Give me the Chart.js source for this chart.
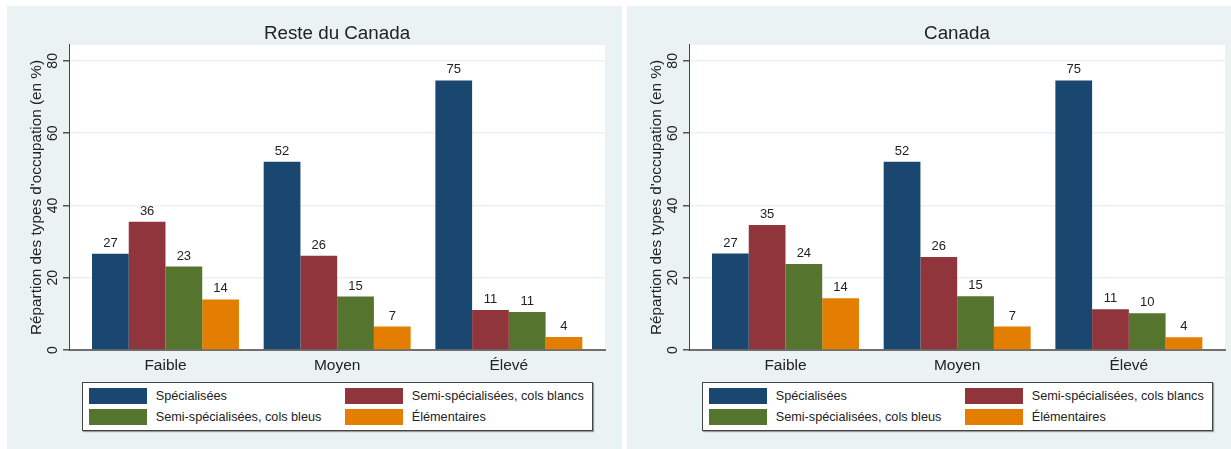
<!DOCTYPE html>
<html><head><meta charset="utf-8">
<script src="https://cdn.jsdelivr.net/npm/chart.js@4/dist/chart.umd.min.js"></script>
<style>
html,body{margin:0;padding:0;background:#fff;width:1231px;height:449px;overflow:hidden;font-family:'Liberation Sans',Arial,sans-serif;}
.panel{position:absolute;top:6px;height:443px;background:#eaf2f3;}
.panel canvas{position:absolute;left:0;top:0;}
.legend{position:absolute;left:75px;top:376px;width:509px;height:47px;background:#fff;border:1px solid #444;box-shadow:1px 1px 1px #9a9a9a;}
.sw{position:absolute;width:58px;height:16px;box-sizing:border-box;}
.lt{position:absolute;font-size:12.7px;color:#222;line-height:16px;white-space:nowrap;}
</style></head><body>
<div class="panel" id="p1" style="left:7px;width:615px"><canvas id="c1"></canvas><div class="legend" id="l1"></div></div>
<div class="panel" id="p2" style="left:627px;width:604px"><canvas id="c2"></canvas><div class="legend" id="l2"></div></div>
<script>
const categories = ['Faible', 'Moyen', 'Élevé'];
const seriesNames = ['Spécialisées', 'Semi-spécialisées, cols blancs', 'Semi-spécialisées, cols bleus', 'Élémentaires'];
const seriesColors = ['#1a476f', '#90353b', '#55752f', '#e37e00'];
const panelTitles = ['Reste du Canada', 'Canada'];
const yTicks = [0, 20, 40, 60, 80];
const yAxisTitle = "Répartion des types d'occupation (en %)";

// Reste du Canada
const resteSpecialisees  = [26.6, 52.1, 74.6];
const resteColsBlancs    = [35.5, 26.1, 11.1];
const resteColsBleus     = [23.1, 14.8, 10.5];
const resteElementaires  = [14.0, 6.5, 3.6];

// Canada
const canadaSpecialisees = [26.7, 52.1, 74.6];
const canadaColsBlancs   = [34.6, 25.7, 11.3];
const canadaColsBleus    = [23.8, 14.9, 10.2];
const canadaElementaires = [14.3, 6.5, 3.5];

const FONT = "'Liberation Sans', Arial, sans-serif";

const plotBg = {
  id: 'plotBg',
  beforeDraw(chart) {
    const { ctx, chartArea: a } = chart;
    ctx.save();
    ctx.fillStyle = '#ffffff';
    ctx.fillRect(a.left, a.top, a.right - a.left, a.bottom - a.top);
    ctx.restore();
  }
};

const valueLabels = {
  id: 'valueLabels',
  afterDatasetsDraw(chart) {
    const ctx = chart.ctx;
    ctx.save();
    ctx.font = "13px " + FONT;
    ctx.fillStyle = '#222';
    ctx.textAlign = 'center';
    ctx.textBaseline = 'alphabetic';
    chart.data.datasets.forEach((ds, i) => {
      chart.getDatasetMeta(i).data.forEach((bar, j) => {
        ctx.fillText(String(Math.round(ds.data[j].y)), bar.x, bar.y - 7);
      });
    });
    ctx.restore();
  }
};

function makeChart(canvasId, title, seriesData, width) {
  const canvas = document.getElementById(canvasId);
  const height = 374;
  canvas.width = width; canvas.height = height;
  canvas.style.width = width + 'px'; canvas.style.height = height + 'px';
  return new Chart(canvas, {
    type: 'bar',
    data: {
      datasets: seriesData.map((vals, k) => ({
        label: seriesNames[k],
        data: vals.map((v, i) => ({ x: i, y: v })),
        backgroundColor: seriesColors[k],
        borderColor: seriesColors[k],
        borderWidth: 0,
        barPercentage: 1,
        categoryPercentage: 0.856
      }))
    },
    options: {
      responsive: false,
      animation: false,
      devicePixelRatio: 1,
      layout: { padding: { left: 0, right: width - 598, top: 0, bottom: 0 } },
      plugins: {
        legend: { display: false },
        tooltip: { enabled: false },
        title: {
          display: true, text: title, fullSize: false, color: '#222',
          font: { family: FONT, size: 18.8, weight: 'normal' },
          padding: { top: 16.2, bottom: 0.2 }
        }
      },
      scales: {
        x: {
          type: 'linear', min: -0.562, max: 2.56, offset: false,
          afterBuildTicks(s) { s.ticks = categories.map((c, i) => ({ value: i })); },
          ticks: {
            callback: (v) => categories[v], color: '#222',
            font: { family: FONT, size: 15.5 }, padding: 6, maxRotation: 0, autoSkip: false
          },
          grid: { display: false, drawTicks: false },
          border: { display: true, color: '#6f6f6f', width: 2 },
          afterFit(s) { s.height = height - 344; }
        },
        y: {
          min: 0, max: 84.4,
          afterBuildTicks(s) { s.ticks = yTicks.map(v => ({ value: v })); },
          ticks: {
            color: '#222', font: { family: FONT, size: 14 },
            minRotation: 90, maxRotation: 90, crossAlign: 'center', padding: 2.5
          },
          grid: { color: '#eaf2f3', lineWidth: 1.5, tickColor: '#555', tickLength: 6, drawTicks: true },
          border: { display: true, color: '#444', width: 1 },
          title: {
            display: true, text: yAxisTitle, color: '#222',
            font: { family: FONT, size: 15.3 }, padding: { top: 20.8, bottom: 0 }
          },
          afterFit(s) { s.width = 62; }
        }
      }
    },
    plugins: [plotBg, valueLabels]
  });
}

function buildLegend(id) {
  const el = document.getElementById(id);
  const pos = [[5.6, 5], [261.6, 5], [5.6, 26.3], [261.6, 26.3]];
  seriesNames.forEach((n, k) => {
    const [x, y] = pos[k];
    const sw = document.createElement('div');
    sw.className = 'sw';
    sw.style.left = x + 'px'; sw.style.top = y + 'px';
    sw.style.background = seriesColors[k];
    el.appendChild(sw);
    const t = document.createElement('div');
    t.className = 'lt';
    t.style.left = (x + 67.1) + 'px'; t.style.top = y + 'px';
    t.textContent = n;
    el.appendChild(t);
  });
}

makeChart('c1', panelTitles[0], [resteSpecialisees, resteColsBlancs, resteColsBleus, resteElementaires], 615);
makeChart('c2', panelTitles[1], [canadaSpecialisees, canadaColsBlancs, canadaColsBleus, canadaElementaires], 604);
buildLegend('l1');
buildLegend('l2');
</script>
</body></html>
